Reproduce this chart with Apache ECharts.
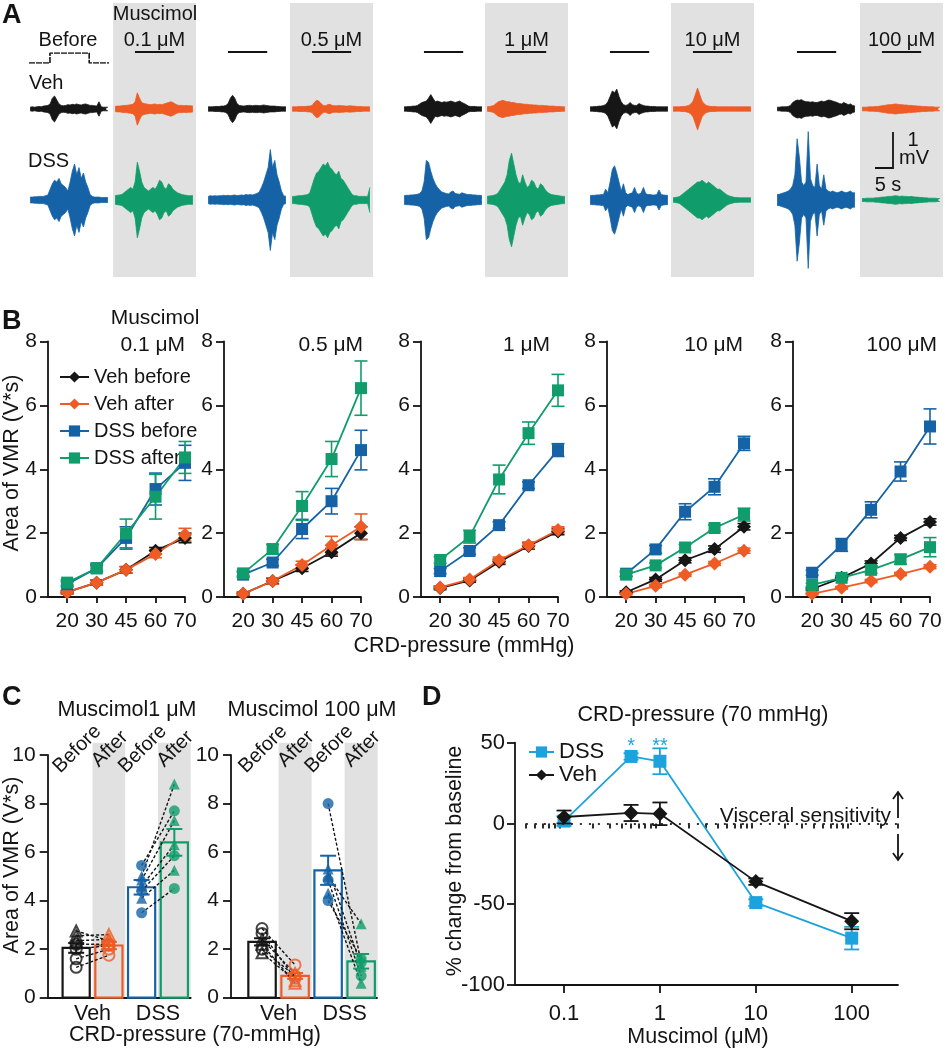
<!DOCTYPE html>
<html><head><meta charset="utf-8">
<script src="https://cdn.jsdelivr.net/npm/echarts@6/dist/echarts.min.js"></script>
<style>html,body{margin:0;padding:0;background:#fff}#c{width:945px;height:1050px}</style>
</head><body><div id="c"></div>
<script>
// ---------------- DATA ----------------
// Panel A: EMG trace envelopes (half-amplitude, mV) in equal time bins over a 21 s sweep
const traceTime = 21;
const stimOnOff = [5.5, 15.8];
const stimStepX = [0, 5.5, 5.5, 15.8, 15.8, 21];
const stimStepY = [0, 0, 1, 1, 0, 0];
const concLabels = ['0.1 μM', '0.5 μM', '1 μM', '10 μM', '100 μM'];
const vehBeforeTr = [
  [0.05,0.06,0.05,0.06,0.07,0.06,0.08,0.09,0.1,0.14,0.3,0.36,0.25,0.14,0.1,0.09,0.1,0.12,0.11,0.13,0.12,0.14,0.12,0.11,0.13,0.14,0.12,0.1,0.1,0.09,0.08,0.2,0.06,0.05,0.05,0.05],
  [0.06,0.06,0.06,0.07,0.07,0.07,0.08,0.08,0.1,0.15,0.3,0.38,0.3,0.15,0.1,0.09,0.08,0.09,0.1,0.1,0.09,0.1,0.1,0.09,0.1,0.11,0.1,0.09,0.08,0.08,0.08,0.07,0.07,0.06,0.06,0.06],
  [0.06,0.06,0.07,0.07,0.08,0.08,0.1,0.14,0.18,0.2,0.22,0.3,0.4,0.3,0.2,0.22,0.2,0.18,0.2,0.19,0.2,0.22,0.2,0.18,0.2,0.22,0.18,0.15,0.12,0.08,0.07,0.07,0.07,0.06,0.06,0.06],
  [0.06,0.06,0.07,0.07,0.08,0.08,0.1,0.12,0.2,0.35,0.5,0.45,0.55,0.35,0.2,0.12,0.1,0.12,0.18,0.12,0.1,0.1,0.15,0.12,0.1,0.08,0.08,0.07,0.07,0.07,0.06,0.06,0.06,0.06,0.06,0.06],
  [0.05,0.05,0.06,0.06,0.06,0.07,0.1,0.18,0.22,0.25,0.24,0.26,0.22,0.2,0.2,0.19,0.2,0.18,0.18,0.2,0.22,0.2,0.22,0.25,0.24,0.22,0.2,0.18,0.15,0.14,0.18,0.15,0.12,0.14,0.1,0.08]
];
const vehAfterTr = [
  [0.07,0.08,0.08,0.09,0.1,0.1,0.11,0.12,0.13,0.2,0.45,0.3,0.18,0.15,0.14,0.13,0.12,0.13,0.14,0.12,0.13,0.12,0.14,0.16,0.18,0.2,0.18,0.14,0.11,0.1,0.1,0.09,0.1,0.09,0.09,0.08],
  [0.06,0.06,0.06,0.07,0.07,0.07,0.07,0.08,0.08,0.1,0.18,0.24,0.22,0.15,0.1,0.09,0.12,0.13,0.1,0.09,0.09,0.1,0.09,0.09,0.08,0.08,0.09,0.08,0.08,0.07,0.07,0.07,0.06,0.06,0.06,0.06],
  [0.06,0.07,0.08,0.1,0.15,0.2,0.22,0.24,0.22,0.2,0.2,0.18,0.18,0.16,0.15,0.15,0.14,0.13,0.13,0.12,0.12,0.11,0.11,0.1,0.1,0.1,0.09,0.09,0.08,0.08,0.08,0.07,0.07,0.07,0.06,0.06],
  [0.06,0.06,0.06,0.06,0.07,0.07,0.08,0.1,0.14,0.22,0.4,0.58,0.4,0.22,0.14,0.1,0.08,0.07,0.07,0.07,0.06,0.06,0.06,0.06,0.06,0.06,0.06,0.06,0.06,0.06,0.06,0.06,0.06,0.06,0.06,0.06],
  [0.05,0.05,0.05,0.06,0.06,0.06,0.07,0.07,0.08,0.09,0.1,0.11,0.12,0.12,0.13,0.14,0.13,0.12,0.12,0.11,0.11,0.1,0.1,0.09,0.09,0.08,0.08,0.07,0.07,0.07,0.06,0.06,0.06,0.05,0.05,0.05]
];
const dssBeforeTr = [
  [0.08,0.08,0.09,0.09,0.1,0.1,0.1,0.12,0.14,0.3,0.45,0.55,0.5,0.6,0.45,0.4,0.35,0.25,0.5,0.8,1.0,0.7,0.9,0.6,0.75,0.5,0.35,0.15,0.1,0.08,0.08,0.08,0.07,0.07,0.07,0.07],
  [0.1,0.12,0.11,0.12,0.11,0.12,0.12,0.13,0.12,0.13,0.12,0.13,0.14,0.12,0.13,0.14,0.13,0.15,0.14,0.15,0.14,0.16,0.18,0.22,0.35,0.5,0.7,0.9,1.4,0.9,1.1,0.7,0.5,0.25,0.12,0.1],
  [0.12,0.13,0.13,0.14,0.14,0.15,0.16,0.18,0.25,0.5,1.1,1.05,0.8,0.6,0.45,0.35,0.28,0.22,0.2,0.18,0.17,0.22,0.25,0.18,0.17,0.16,0.2,0.18,0.16,0.15,0.15,0.14,0.14,0.13,0.13,0.12],
  [0.12,0.13,0.13,0.14,0.14,0.15,0.15,0.3,0.2,0.5,0.85,0.95,0.75,0.5,0.25,0.45,0.2,0.15,0.18,0.2,0.35,0.18,0.16,0.2,0.35,0.18,0.15,0.15,0.14,0.14,0.15,0.28,0.15,0.14,0.13,0.13],
  [0.15,0.16,0.18,0.2,0.22,0.25,0.3,0.4,0.7,1.7,1.2,0.5,0.4,0.5,1.9,0.6,0.4,0.35,1.0,0.4,0.3,0.7,0.3,0.25,0.22,0.25,0.22,0.2,0.22,0.25,0.22,0.2,0.22,0.25,0.2,0.2]
];
const dssAfterTr = [
  [0.12,0.13,0.14,0.15,0.2,0.25,0.3,0.35,0.3,0.5,1.05,0.8,0.5,0.35,0.3,0.25,0.3,0.35,0.3,0.4,0.55,0.5,0.35,0.3,0.45,0.4,0.3,0.25,0.2,0.18,0.15,0.14,0.13,0.12,0.12,0.12],
  [0.1,0.1,0.11,0.12,0.12,0.13,0.14,0.15,0.2,0.4,0.6,0.75,0.8,0.9,1.0,0.95,1.05,0.9,0.85,0.75,0.7,0.8,0.6,0.55,0.45,0.35,0.25,0.15,0.12,0.12,0.1,0.1,0.1,0.1,0.1,0.35],
  [0.1,0.11,0.12,0.13,0.15,0.2,0.3,0.4,0.5,0.7,1.1,1.3,1.0,0.7,0.5,0.45,0.7,0.5,0.35,0.4,0.55,0.5,0.35,0.3,0.45,0.4,0.3,0.22,0.18,0.15,0.14,0.13,0.12,0.11,0.1,0.1],
  [0.06,0.07,0.08,0.1,0.15,0.2,0.25,0.3,0.35,0.4,0.45,0.5,0.5,0.55,0.5,0.45,0.5,0.45,0.4,0.35,0.3,0.3,0.25,0.2,0.15,0.12,0.1,0.08,0.07,0.07,0.06,0.06,0.06,0.06,0.06,0.06],
  [0.04,0.04,0.05,0.05,0.05,0.05,0.06,0.06,0.07,0.08,0.08,0.09,0.1,0.1,0.11,0.12,0.11,0.1,0.11,0.1,0.1,0.09,0.1,0.09,0.08,0.08,0.07,0.07,0.06,0.06,0.05,0.05,0.05,0.05,0.04,0.04]
];

// Panel B: Area of VMR (V*s) vs CRD pressure, one row per muscimol concentration
const pressures = ['20', '30', '45', '60', '70'];
const bSeriesNames = ['Veh before', 'Veh after', 'DSS before', 'DSS after'];
const bVehBefore = [[0.15,0.45,0.85,1.45,1.85],[0.1,0.5,0.9,1.4,2.0],[0.28,0.52,1.1,1.6,2.05],[0.15,0.55,1.15,1.5,2.2],[0.25,0.6,1.05,1.85,2.35]];
const bVehBeforeErr = [[0.05,0.08,0.1,0.1,0.15],[0.05,0.08,0.1,0.12,0.2],[0.05,0.06,0.08,0.1,0.1],[0.04,0.06,0.08,0.1,0.1],[0.05,0.06,0.08,0.08,0.1]];
const bVehAfter = [[0.15,0.45,0.85,1.35,1.95],[0.1,0.5,1.0,1.62,2.2],[0.3,0.55,1.15,1.62,2.1],[0.1,0.35,0.7,1.05,1.45],[0.1,0.29,0.5,0.72,0.95]];
const bVehAfterErr = [[0.05,0.08,0.1,0.12,0.2],[0.05,0.1,0.12,0.28,0.4],[0.05,0.06,0.1,0.1,0.1],[0.03,0.05,0.05,0.06,0.08],[0.03,0.04,0.05,0.05,0.06]];
const bDssBefore = [[0.4,0.9,1.85,3.38,4.2],[0.7,1.08,2.13,3.0,4.6],[0.81,1.44,2.25,3.5,4.6],[0.73,1.49,2.67,3.45,4.81],[0.76,1.63,2.73,3.93,5.34]];
const bDssBeforeErr = [[0.08,0.12,0.35,0.5,0.55],[0.08,0.1,0.3,0.4,0.62],[0.08,0.1,0.1,0.1,0.2],[0.08,0.12,0.25,0.25,0.22],[0.08,0.2,0.25,0.3,0.55]];
const bDssAfter = [[0.45,0.9,1.99,3.14,4.37],[0.74,1.5,2.85,4.32,6.54],[1.16,1.89,3.68,5.13,6.47],[0.7,0.99,1.55,2.16,2.58],[0.38,0.6,0.85,1.18,1.56]];
const bDssAfterErr = [[0.08,0.1,0.45,0.7,0.5],[0.08,0.15,0.45,0.55,0.85],[0.1,0.2,0.45,0.35,0.5],[0.06,0.08,0.1,0.1,0.2],[0.05,0.06,0.1,0.15,0.3]];

// Panel C: 70 mmHg responses, bars = mean, points = animals
const cColLabels = ['Before', 'After', 'Before', 'After'];
const cGroupLabels = ['Veh', 'DSS'];
const cTitles = ['Muscimol1 μM', 'Muscimol 100 μM'];
const cMeans = [[2.05, 2.15, 4.55, 6.4], [2.3, 0.9, 5.25, 1.5]];
const cErr = [[0.2, 0.15, 0.3, 0.55], [0.15, 0.12, 0.6, 0.3]];
const cVehBefore = [[2.75, 2.55, 2.35, 2.2, 2.0, 1.6, 1.25], [2.85, 2.65, 2.4, 2.2, 2.0, 1.85]];
const cVehAfter = [[2.35, 2.6, 2.4, 2.2, 2.15, 2.0, 1.75], [1.35, 0.8, 1.0, 0.6, 0.9, 0.7]];
const cVehSym = [['triangle','triangle','triangle','circle','circle','circle','circle'], ['circle','circle','triangle','triangle','circle','triangle']];
const cDssBefore = [[5.45, 5.0, 4.85, 4.6, 4.4, 4.1, 3.5], [8.0, 5.3, 5.0, 4.85, 4.3, 4.0]];
const cDssAfter = [[7.7, 8.8, 7.3, 6.3, 5.85, 5.25, 4.5], [1.45, 1.3, 3.05, 0.9, 0.6, 1.6]];
const cDssSym = [['circle','triangle','triangle','triangle','circle','triangle','circle'], ['circle','triangle','triangle','circle','triangle','circle']];

// Panel D: % change from baseline vs muscimol concentration
const dConc = [0.1, 0.5, 1, 10, 100];
const dDss = [1.5, 41.5, 38.5, -49, -71];
const dDssErr = [3, 2, 8, 2, 7];
const dVeh = [4, 6.5, 6, -36, -60.5];
const dVehErr = [4, 5, 7, 2, 5];
const dTickLabels = [0.1, 1, 10, 100];
const dSig = ['*', '**'];
const dSigConc = [0.5, 1];

// ---------------- STYLE / LAYOUT ----------------
const FONT = "'Liberation Sans', Arial, Helvetica, sans-serif";
const INK = '#141414';
const COL = { black: '#161616', orange: '#ee5b24', blue: '#1563a6', green: '#109d6b', cyan: '#1ca3dd', gray: '#e2e1e2' };
const colLeft = [[29, 207, 403, 589, 776], [114, 291, 486, 672, 861]];
const rowBase = [109, 200];
const PXMV = 36, TRW = 80, MVR = 2.2;
const bLefts = [48, 224, 421, 607, 793];
const bTitleRight = [185, 363, 550, 743, 937];

const grids = [], xAxes = [], yAxes = [], series = [], gfx = [];
function addGrid(g, xa, ya) {
  grids.push(g); const gi = grids.length - 1;
  xa.gridIndex = gi; ya.gridIndex = gi; xAxes.push(xa); yAxes.push(ya);
  return { xAxisIndex: xAxes.length - 1, yAxisIndex: yAxes.length - 1, gi };
}
const hidden = (min, max) => ({ type: 'value', min, max, show: false, splitLine: { show: false } });
function txt(text, x, y, o = {}) {
  const a = o.align || 'center', va = o.va || 'middle';
  return { type: 'text', x, y, z: 100, rotation: o.rot || 0,
    style: { text, fill: o.color || INK, font: (o.bold ? 'bold ' : '') + (o.size || 21) + 'px ' + FONT,
      textAlign: a, textVerticalAlign: va, align: a, verticalAlign: va } };
}
function ln(x1, y1, x2, y2, w = 1.8, c = INK) {
  return { type: 'line', z: 100, shape: { x1, y1, x2, y2 }, style: { stroke: c, lineWidth: w } };
}

// ---------------- PANEL A ----------------
const trColors = [[COL.black, COL.blue], [COL.orange, COL.green]];
const trSets = [[vehBeforeTr, dssBeforeTr], [vehAfterTr, dssAfterTr]];
for (let k = 0; k < 5; k++) {
  const bx = colLeft[1][k] - 1;
  gfx.push({ type: 'rect', z: -10, shape: { x: bx, y: 3, width: Math.min(83, 945 - bx), height: 274 }, style: { fill: COL.gray } });
}
for (let s = 0; s < 2; s++) {
  for (let k = 0; k < 5; k++) {
    for (let r = 0; r < 2; r++) {
      const arr = trSets[s][r][k];
      const dt = traceTime / arr.length;
      const c = trColors[s][r];
      const ax = addGrid({ left: colLeft[s][k], top: rowBase[r] - MVR * PXMV, width: TRW, height: 2 * MVR * PXMV },
        hidden(0, traceTime), hidden(-MVR, MVR));
      [1, -1].forEach(sign => {
        series.push({ type: 'line', xAxisIndex: ax.xAxisIndex, yAxisIndex: ax.yAxisIndex, z: 3, symbol: 'none', silent: true,
          data: arr.map((a, i) => [(i + 0.5) * dt, sign * a]),
          lineStyle: { color: c, width: 0.8 }, areaStyle: { color: c, opacity: 1, origin: 0 } });
      });
    }
    // stimulus marker
    if (s === 0 && k === 0) {
      const ax = addGrid({ left: colLeft[0][0], top: 53, width: TRW, height: 10 }, hidden(0, traceTime), hidden(0, 1));
      series.push({ type: 'line', xAxisIndex: ax.xAxisIndex, yAxisIndex: ax.yAxisIndex, symbol: 'none',
        data: stimStepX.map((x, i) => [x, stimStepY[i]]), lineStyle: { color: INK, width: 1.6, type: [6, 1] } });
    } else {
      const ax = addGrid({ left: colLeft[s][k], top: 42, width: TRW, height: 10 }, hidden(0, traceTime), hidden(0, 1));
      series.push({ type: 'line', xAxisIndex: ax.xAxisIndex, yAxisIndex: ax.yAxisIndex, symbol: 'none',
        data: stimOnOff.map(x => [x, 0]), lineStyle: { color: INK, width: 2 } });
    }
  }
}
gfx.push(txt('A', 2, 16, { bold: true, size: 27, align: 'left' }));
gfx.push(txt('Before', 68, 40, { size: 20 }));
gfx.push(txt('Muscimol', 155, 14, { size: 20 }));
for (let k = 0; k < 5; k++) gfx.push(txt(concLabels[k], colLeft[1][k] + 40.5, 40, { size: 20 }));
gfx.push(txt('Veh', 29, 83, { size: 20, align: 'left' }));
gfx.push(txt('DSS', 28, 161, { size: 20, align: 'left' }));
gfx.push({ type: 'polyline', z: 100, shape: { points: [[893, 132], [893, 168], [875, 168]] }, style: { stroke: INK, lineWidth: 1.8, fill: null } });
gfx.push(txt('1', 913, 140, { size: 20 }));
gfx.push(txt('mV', 914, 158, { size: 20 }));
gfx.push(txt('5 s', 888, 185, { size: 20 }));

// ---------------- PANEL B ----------------
const lineW = 1.8;
const axLine = { show: true, onZero: false, lineStyle: { color: INK, width: lineW } };
const tickSt = { color: INK, width: lineW };
function errRender(cap, w) {
  return function (params, api) {
    const x = api.value(0), y = api.value(1), e = api.value(2), c = api.visual('color');
    const hi = api.coord([x, y + e]), lo = api.coord([x, y - e]);
    const st = { stroke: c, lineWidth: w };
    return { type: 'group', children: [
      { type: 'line', shape: { x1: hi[0], y1: hi[1], x2: lo[0], y2: lo[1] }, style: st },
      { type: 'line', shape: { x1: hi[0] - cap, y1: hi[1], x2: hi[0] + cap, y2: hi[1] }, style: st },
      { type: 'line', shape: { x1: lo[0] - cap, y1: lo[1], x2: lo[0] + cap, y2: lo[1] }, style: st }
    ] };
  };
}
const bVals = [bVehBefore, bVehAfter, bDssBefore, bDssAfter];
const bErrs = [bVehBeforeErr, bVehAfterErr, bDssBeforeErr, bDssAfterErr];
const bCols = [COL.black, COL.orange, COL.blue, COL.green];
const bSym = ['diamond', 'diamond', 'rect', 'rect'];
const bSymSize = [14, 14, 12, 12];
for (let k = 0; k < 5; k++) {
  const ax = addGrid({ left: bLefts[k], top: 341.5, width: 137, height: 255.5 },
    { type: 'value', min: -0.65, max: 4, axisLine: axLine,
      axisTick: { show: true, customValues: [0, 1, 2, 3, 4], length: 6, lineStyle: tickSt },
      axisLabel: { show: true, customValues: [0, 1, 2, 3, 4], formatter: v => pressures[Math.round(v)], fontSize: 21, fontFamily: FONT, color: INK, margin: 14 },
      splitLine: { show: false } },
    { type: 'value', min: 0, max: 8, interval: 2, axisLine: axLine,
      axisTick: { show: true, length: 8, lineStyle: tickSt },
      axisLabel: { fontSize: 21, fontFamily: FONT, color: INK, margin: 11 }, splitLine: { show: false } });
  for (let s = 0; s < 4; s++) {
    series.push({ type: 'custom', xAxisIndex: ax.xAxisIndex, yAxisIndex: ax.yAxisIndex, z: 3,
      itemStyle: { color: bCols[s] }, data: bVals[s][k].map((v, i) => [i, v, bErrs[s][k][i]]), renderItem: errRender(6.5, 1.6) });
    series.push({ type: 'line', name: bSeriesNames[s], xAxisIndex: ax.xAxisIndex, yAxisIndex: ax.yAxisIndex, z: 4,
      data: bVals[s][k].map((v, i) => [i, v]), symbol: bSym[s], symbolSize: bSymSize[s],
      itemStyle: { color: bCols[s] }, lineStyle: { color: bCols[s], width: lineW } });
  }
  gfx.push(txt(concLabels[k], bTitleRight[k], 345, { align: 'right', size: 21 }));
}
gfx.push(txt('B', 2, 322, { bold: true, size: 27, align: 'left' }));
gfx.push(txt('Muscimol', 155, 318, { size: 21 }));
gfx.push(txt('Area of VMR (V*s)', 12, 463, { rot: Math.PI / 2, size: 21.5 }));
gfx.push(txt('CRD-pressure (mmHg)', 464, 646, { size: 21.5 }));

// ---------------- PANEL C ----------------
const cGrid = [{ left: 47.7, width: 143, min: -0.87, max: 3.5 }, { left: 231, width: 146, min: -0.94, max: 3.48 }];
const cBarCols = [COL.black, COL.orange, COL.blue, COL.green];
for (let p = 0; p < 2; p++) {
  const g = cGrid[p];
  const ax = addGrid({ left: g.left, top: 755, width: g.width, height: 242.7 },
    { type: 'value', min: g.min, max: g.max, axisLine: axLine, axisTick: { show: false },
      axisLabel: { show: true, customValues: [0.5, 2.5], formatter: v => cGroupLabels[Math.round((v - 0.5) / 2)], fontSize: 21.5, fontFamily: FONT, color: INK, margin: 5 },
      splitLine: { show: false } },
    { type: 'value', min: 0, max: 10, interval: 2, axisLine: axLine,
      axisTick: { show: true, length: 8, lineStyle: tickSt },
      axisLabel: { fontSize: 21, fontFamily: FONT, color: INK, margin: 12 }, splitLine: { show: false } });
  const base = { xAxisIndex: ax.xAxisIndex, yAxisIndex: ax.yAxisIndex };
  series.push(Object.assign({ type: 'custom', z: 0, data: [1, 3], renderItem: (params, api) => {
    const x = api.value(0); const p0 = api.coord([x - 0.5, 10.5]), p1 = api.coord([x + 0.5, 0]);
    return { type: 'rect', shape: { x: p0[0], y: p0[1], width: p1[0] - p0[0], height: p1[1] - p0[1] }, style: { fill: COL.gray } };
  } }, base));
  series.push(Object.assign({ type: 'custom', z: 2, data: cMeans[p].map((v, i) => [i, v]), renderItem: (params, api) => {
    const x = api.value(0), v = api.value(1);
    const p0 = api.coord([x - 0.415, v]), p1 = api.coord([x + 0.415, 0]);
    return { type: 'rect', shape: { x: p0[0], y: p0[1], width: p1[0] - p0[0], height: p1[1] - p0[1] },
      style: { fill: 'rgba(0,0,0,0)', stroke: cBarCols[params.dataIndex], lineWidth: 2.2 } };
  } }, base));
  series.push(Object.assign({ type: 'custom', z: 6, data: cMeans[p].map((v, i) => [i, v, cErr[p][i]]), renderItem: (params, api) => {
    const x = api.value(0), y = api.value(1), e = api.value(2), c = cBarCols[params.dataIndex];
    const hi = api.coord([x, y + e]), lo = api.coord([x, y - e]);
    const st = { stroke: c, lineWidth: 2 };
    return { type: 'group', children: [
      { type: 'line', shape: { x1: hi[0], y1: hi[1], x2: lo[0], y2: lo[1] }, style: st },
      { type: 'line', shape: { x1: hi[0] - 8, y1: hi[1], x2: hi[0] + 8, y2: hi[1] }, style: st },
      { type: 'line', shape: { x1: lo[0] - 8, y1: lo[1], x2: lo[0] + 8, y2: lo[1] }, style: st }] };
  } }, base));
  const pairs = [];
  cVehBefore[p].forEach((b, j) => pairs.push([0, b, 1, cVehAfter[p][j]]));
  cDssBefore[p].forEach((b, j) => pairs.push([2, b, 3, cDssAfter[p][j]]));
  series.push(Object.assign({ type: 'custom', z: 4, data: pairs, renderItem: (params, api) => {
    const a = api.coord([api.value(0), api.value(1)]), b = api.coord([api.value(2), api.value(3)]);
    return { type: 'line', shape: { x1: a[0], y1: a[1], x2: b[0], y2: b[1] }, style: { stroke: INK, lineWidth: 1.4, lineDash: [3, 2] } };
  } }, base));
  const ptSets = [[0, cVehBefore[p], cVehSym[p], COL.black, false], [1, cVehAfter[p], cVehSym[p], COL.orange, false],
                  [2, cDssBefore[p], cDssSym[p], COL.blue, true], [3, cDssAfter[p], cDssSym[p], COL.green, true]];
  ptSets.forEach(([x, vals, syms, c, filled]) => {
    series.push(Object.assign({ type: 'scatter', z: 5, symbolSize: 11,
      itemStyle: filled ? { color: c } : { color: 'rgba(255,255,255,0)', borderColor: c, borderWidth: 2 },
      data: vals.map((v, j) => ({ value: [x, v], symbol: syms[j] })) }, base));
  });
  series.push(Object.assign({ type: 'custom', z: 10, data: [0, 1, 2, 3], renderItem: (params, api) => {
    const pt = api.coord([api.value(0), 10]);
    return { type: 'text', x: pt[0] + 1, y: pt[1] - 6, rotation: Math.PI / 4,
      style: { text: cColLabels[params.dataIndex], fill: INK, font: '20px ' + FONT, align: 'center', verticalAlign: 'middle' } };
  } }, base));
}
gfx.push(txt('C', 2, 698, { bold: true, size: 27, align: 'left' }));
gfx.push(txt(cTitles[0], 127, 710, { size: 21.5 }));
gfx.push(txt(cTitles[1], 312, 710, { size: 21.5 }));
gfx.push(txt('Area of VMR (V*s)', 12, 865, { rot: Math.PI / 2, size: 21.5 }));
gfx.push(txt('CRD-pressure (70-mmHg)', 195, 1035, { size: 21.5 }));

// ---------------- PANEL D ----------------
const dMin = 0.0308, dMax = 304;
const dMinor = [];
for (let d = -2; d <= 2; d++) for (let m = 2; m <= 9; m++) { const v = m * Math.pow(10, d); if (v >= dMin && v <= dMax) dMinor.push(v); }
const dax = addGrid({ left: 515, top: 742.7, width: 383, height: 242.3 },
  { type: 'log', logBase: 10, min: dMin, max: dMax, axisLine: axLine,
    axisTick: { show: true, customValues: dTickLabels, length: 8, lineStyle: tickSt },
    axisLabel: { show: true, customValues: dTickLabels, formatter: v => String(+v.toPrecision(3)), fontSize: 22, fontFamily: FONT, color: INK, margin: 18 },
    splitLine: { show: false }, minorTick: { show: false } },
  { type: 'value', min: -100, max: 50, interval: 50, axisLine: axLine,
    axisTick: { show: true, length: 8, lineStyle: tickSt },
    axisLabel: { fontSize: 22, fontFamily: FONT, color: INK, margin: 10 }, splitLine: { show: false } });
xAxes.push({ type: 'log', logBase: 10, min: dMin, max: dMax, gridIndex: dax.gi, position: 'bottom',
  axisLine: { show: false }, axisLabel: { show: false }, splitLine: { show: false },
  axisTick: { show: true, customValues: dMinor, length: 5, lineStyle: tickSt } });
const dBase = { xAxisIndex: dax.xAxisIndex, yAxisIndex: dax.yAxisIndex };
series.push(Object.assign({ type: 'line', name: 'Veh', z: 4, data: dConc.map((c, i) => [c, dVeh[i]]), symbol: 'diamond', symbolSize: 15,
  itemStyle: { color: COL.black }, lineStyle: { color: COL.black, width: lineW },
  markLine: { silent: true, symbol: 'none', label: { show: false }, lineStyle: { color: '#333', width: 2, type: [2, 7] },
    data: [[{ coord: [0.04, 0] }, { coord: [dMax, 0] }]] } }, dBase));
series.push(Object.assign({ type: 'line', name: 'DSS', z: 3, data: dConc.map((c, i) => [c, dDss[i]]), symbol: 'rect', symbolSize: 13,
  itemStyle: { color: COL.cyan }, lineStyle: { color: COL.cyan, width: lineW } }, dBase));
series.push(Object.assign({ type: 'custom', z: 3, itemStyle: { color: COL.cyan }, data: dConc.map((c, i) => [c, dDss[i], dDssErr[i]]), renderItem: errRender(7.5, 1.8) }, dBase));
series.push(Object.assign({ type: 'custom', z: 5, itemStyle: { color: COL.black }, data: dConc.map((c, i) => [c, dVeh[i], dVehErr[i]]), renderItem: errRender(7.5, 1.8) }, dBase));
series.push(Object.assign({ type: 'custom', z: 6, data: dSigConc.map((c, i) => [c, 50]), renderItem: (params, api) => {
  const pt = api.coord([api.value(0), api.value(1)]);
  return { type: 'text', x: pt[0], y: pt[1] + 4, style: { text: dSig[params.dataIndex], fill: COL.cyan, font: '20px ' + FONT, align: 'center', verticalAlign: 'middle' } };
} }, dBase));
gfx.push(txt('D', 422, 698, { bold: true, size: 27, align: 'left' }));
gfx.push(txt('CRD-pressure (70 mmHg)', 703, 715, { size: 21.5 }));
gfx.push(txt('% change from baseline', 455, 861, { rot: Math.PI / 2, size: 21.5 }));
gfx.push(txt('Muscimol (μM)', 698, 1037, { size: 21.5 }));
gfx.push(txt('Visceral sensitivity', 891, 816, { size: 21, align: 'right' }));
gfx.push(ln(898, 793, 898, 818, 1.8));
gfx.push({ type: 'polyline', z: 100, shape: { points: [[893, 799], [898, 792], [903, 799]] }, style: { stroke: INK, lineWidth: 1.8, fill: null } });
gfx.push(ln(898, 834, 898, 859, 1.8));
gfx.push({ type: 'polyline', z: 100, shape: { points: [[893, 853], [898, 860], [903, 853]] }, style: { stroke: INK, lineWidth: 1.8, fill: null } });

// ---------------- OPTION ----------------
const option = {
  animation: false,
  backgroundColor: '#fff',
  textStyle: { fontFamily: FONT, color: INK },
  grid: grids,
  xAxis: xAxes,
  yAxis: yAxes,
  legend: [
    { left: 54, top: 362, orient: 'vertical', data: bSeriesNames, itemWidth: 29, itemHeight: 14, itemGap: 7,
      textStyle: { fontSize: 20, lineHeight: 20, fontFamily: FONT, color: INK }, selectedMode: false },
    { left: 523, top: 736, orient: 'vertical', data: ['DSS', 'Veh'], itemWidth: 25, itemHeight: 14, itemGap: 1,
      textStyle: { fontSize: 22, lineHeight: 22, fontFamily: FONT, color: INK }, selectedMode: false }
  ],
  graphic: { elements: gfx },
  series
};
const chart = echarts.init(document.getElementById('c'), null, { renderer: 'canvas' });
chart.setOption(option);
</script></body></html>
